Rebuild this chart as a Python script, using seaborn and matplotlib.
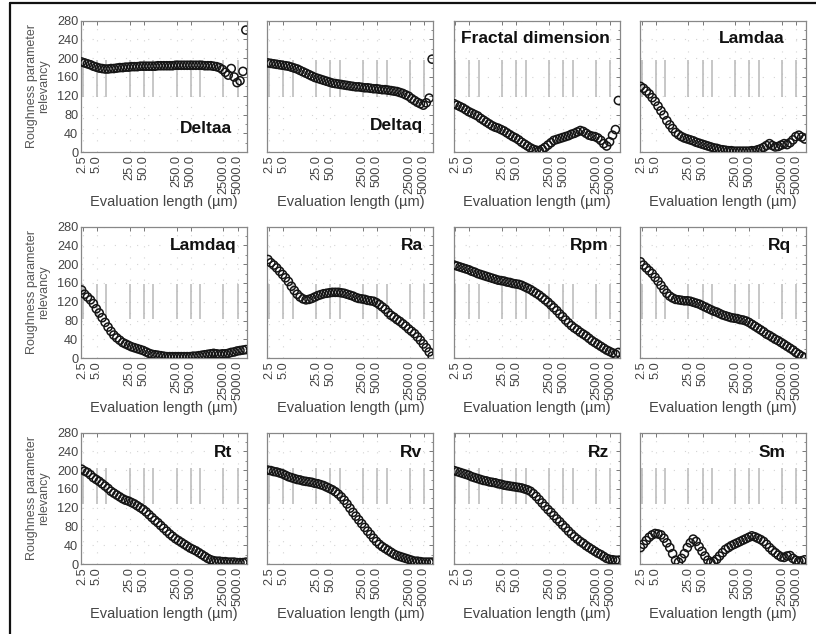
import matplotlib.pyplot as plt
import matplotlib.ticker as mticker
import pandas as pd
import seaborn as sns
from matplotlib.lines import Line2D

# evaluation lengths (um), shared by all panels
eval_length = [2.37, 2.74, 3.16, 3.65, 4.22, 4.87, 5.62, 6.49, 7.50, 8.66,
               10.0, 11.5, 13.3, 15.4, 17.8, 20.5, 23.7, 27.4, 31.6, 36.5,
               42.2, 48.7, 56.2, 64.9, 75.0, 86.6, 100, 115, 133, 154,
               178, 205, 237, 274, 316, 365, 422, 487, 562, 649,
               750, 866, 1000, 1155, 1334, 1540, 1778, 2054, 2371, 2738,
               3162, 3652, 4217, 4870, 5623, 6494, 7499]

deltaa = [192, 190, 188, 186, 183, 181, 179, 178, 177, 177,
          178, 178, 179, 180, 180, 181, 181, 182, 182, 182,
          183, 183, 183, 183, 183, 183, 184, 184, 184, 184,
          184, 184, 185, 185, 185, 185, 185, 185, 185, 185,
          185, 185, 184, 184, 184, 183, 182, 180, 176, 170,
          164, 178, 160, 148, 152, 172, 260]
deltaq = [190, 189, 188, 187, 186, 185, 184, 183, 181, 179,
          177, 174, 171, 168, 165, 162, 159, 157, 155, 153,
          151, 149, 147, 146, 145, 144, 143, 142, 141, 140,
          139, 139, 138, 137, 137, 136, 135, 135, 134, 133,
          133, 132, 131, 130, 129, 127, 125, 122, 119, 114,
          110, 106, 103, 100, 105, 115, 198]
fractal = [103, 100, 97, 94, 90, 86, 83, 80, 77, 72,
           68, 64, 60, 56, 53, 51, 48, 45, 41, 37,
           33, 30, 26, 21, 17, 13, 9, 6, 4, 3,
           6, 10, 15, 20, 25, 27, 29, 31, 33, 35,
           38, 40, 43, 46, 44, 40, 36, 34, 33, 30,
           25, 18, 13, 22, 36, 48, 110]
lamdaa = [140, 136, 130, 124, 116, 108, 98, 88, 79, 67,
          58, 50, 42, 37, 33, 30, 28, 26, 24, 21,
          19, 17, 15, 13, 11, 9, 8, 6, 5, 4,
          3, 3, 2, 2, 2, 2, 2, 2, 3, 3,
          5, 7, 10, 14, 18, 14, 11, 12, 15, 18,
          16, 20, 26, 33, 36, 32, 28]
lamdaq = [145, 136, 130, 124, 116, 105, 96, 86, 76, 66,
          57, 49, 43, 38, 33, 30, 27, 24, 22, 20,
          18, 16, 13, 10, 8, 7, 6, 5, 4, 3,
          3, 3, 3, 3, 3, 3, 3, 3, 4, 4,
          5, 6, 7, 8, 9, 10, 9, 8, 9, 9,
          10, 12, 13, 15, 16, 17, 18]
ra = [210, 203, 198, 192, 185, 178, 171, 163, 153, 144,
      136, 130, 126, 124, 125, 127, 130, 133, 135, 137,
      138, 139, 140, 140, 140, 139, 138, 136, 134, 132,
      129, 127, 126, 125, 123, 122, 121, 118, 114, 109,
      104, 97, 91, 87, 82, 78, 73, 68, 62, 57,
      52, 45, 38, 30, 22, 13, 4]
rpm = [198, 196, 194, 192, 190, 188, 185, 183, 180, 178,
       176, 174, 172, 170, 168, 166, 165, 164, 162, 161,
       159, 158, 157, 155, 152, 149, 146, 142, 138, 134,
       129, 124, 119, 113, 107, 101, 94, 88, 81, 75,
       69, 64, 60, 55, 51, 47, 42, 37, 33, 29,
       25, 21, 17, 14, 11, 8, 12]
rq = [205, 198, 192, 186, 180, 172, 164, 155, 146, 138,
      132, 128, 125, 124, 123, 122, 122, 121, 119, 117,
      115, 112, 109, 106, 103, 100, 98, 95, 92, 90,
      88, 86, 85, 84, 82, 81, 79, 76, 72, 68,
      64, 60, 56, 51, 48, 44, 40, 37, 33, 29,
      25, 21, 17, 12, 8, 4, 1]
rt = [202, 198, 195, 190, 184, 180, 176, 171, 166, 161,
      155, 151, 147, 143, 139, 136, 134, 131, 128, 124,
      120, 116, 111, 105, 99, 93, 88, 82, 76, 70,
      64, 59, 54, 50, 46, 42, 38, 34, 31, 28,
      24, 20, 16, 12, 9, 7, 6, 6, 5, 5,
      4, 4, 4, 3, 3, 3, 4]
rv = [200, 199, 197, 196, 194, 192, 189, 186, 184, 182,
      180, 179, 177, 176, 175, 174, 172, 171, 169, 167,
      164, 161, 158, 154, 149, 143, 136, 128, 119, 110,
      102, 94, 86, 78, 70, 63, 55, 48, 42, 37,
      33, 29, 25, 21, 18, 16, 14, 12, 10, 8,
      6, 6, 5, 4, 4, 4, 4]
rz = [199, 197, 195, 193, 191, 189, 186, 184, 182, 180,
      178, 177, 175, 174, 173, 171, 170, 168, 167, 166,
      165, 164, 163, 162, 160, 158, 155, 150, 144, 137,
      130, 123, 116, 110, 103, 96, 90, 83, 77, 70,
      64, 58, 53, 48, 44, 39, 35, 31, 27, 23,
      20, 16, 12, 10, 9, 8, 8]
sm = [35, 42, 50, 57, 62, 65, 64, 62, 55, 45,
      35, 22, 8, 4, 12, 22, 35, 45, 53, 48,
      37, 27, 17, 8, 3, 5, 10, 17, 24, 31,
      35, 39, 42, 45, 48, 51, 54, 57, 60, 58,
      55, 52, 48, 42, 35, 29, 24, 19, 15, 14,
      17, 18, 12, 8, 6, 7, 9]

panel_names = ["Deltaa", "Deltaq", "Fractal dimension", "Lamdaa",
               "Lamdaq", "Ra", "Rpm", "Rq",
               "Rt", "Rv", "Rz", "Sm"]
panel_values = [deltaa, deltaq, fractal, lamdaa,
                lamdaq, ra, rpm, rq,
                rt, rv, rz, sm]

# gray reference lines (x positions) and their vertical span per row
ref_x = [2.5, 5.0, 8.0, 25.0, 50.0, 80.0, 250.0, 500.0, 800.0, 2500.0, 5000.0]
ref_span = [(117, 196), (83, 158), (128, 205)]

xticks = [2.5, 5.0, 25.0, 50.0, 250.0, 500.0, 2500.0, 5000.0]
xtick_labels = ["2.5", "5.0", "25.0", "50.0", "250.0", "500.0", "2500.0", "5000.0"]
yticks = [0, 40, 80, 120, 160, 200, 240, 280]

# panel label placement (axes fraction, horizontal alignment)
label_pos = {
    "Deltaa": (0.91, 0.18, "right"), "Deltaq": (0.94, 0.20, "right"),
    "Fractal dimension": (0.045, 0.865, "left"), "Lamdaa": (0.87, 0.865, "right"),
    "Lamdaq": (0.935, 0.855, "right"), "Ra": (0.935, 0.855, "right"),
    "Rpm": (0.935, 0.855, "right"), "Rq": (0.91, 0.855, "right"),
    "Rt": (0.91, 0.845, "right"), "Rv": (0.93, 0.845, "right"),
    "Rz": (0.935, 0.845, "right"), "Sm": (0.875, 0.845, "right"),
}

df = pd.concat(
    [pd.DataFrame({"parameter": name, "length": eval_length, "relevancy": vals})
     for name, vals in zip(panel_names, panel_values)],
    ignore_index=True,
)

sns.set_theme(style="white")
plt.rcParams["font.family"] = ["Liberation Sans", "DejaVu Sans"]

fig, axes = plt.subplots(3, 4, figsize=(8.16, 6.34), dpi=100)
fig.subplots_adjust(left=0.0993, right=0.9877, top=0.9674, bottom=0.1104,
                    wspace=0.121, hspace=0.567)

for idx, (ax, name) in enumerate(zip(axes.flat, panel_names)):
    row = idx // 4
    ax.set_xscale("log")
    ax.grid(True, which="major", color="#d4d4d4", linestyle=(0, (1, 9)), linewidth=0.8)
    lo, hi = ref_span[row]
    ax.vlines(ref_x, lo, hi, color="#b8b8b8", linewidth=1.1, zorder=1)

    sns.scatterplot(data=df[df["parameter"] == name], x="length", y="relevancy",
                    ax=ax, marker="o", s=34, facecolor="none",
                    edgecolor="#151515", linewidth=1.1, legend=False, zorder=3)

    ax.set_xlim(2.3, 8000)
    ax.set_ylim(0, 280)
    ax.xaxis.set_major_locator(mticker.FixedLocator(xticks))
    ax.xaxis.set_minor_locator(mticker.NullLocator())
    ax.set_xticklabels(xtick_labels, rotation=90)
    ax.set_yticks(yticks)
    ax.yaxis.set_minor_locator(mticker.MultipleLocator(20))
    ax.tick_params(which="both", direction="in", top=True, right=True,
                   color="#777777", labelcolor="#444444", labelsize=9.2, pad=2)
    ax.tick_params(which="major", length=3, width=0.7)
    ax.tick_params(which="minor", length=1.5, width=0.6)
    if idx % 4 != 0:
        ax.set_yticklabels([])
        ax.set_ylabel("")
    else:
        ax.set_ylabel("Roughness parameter\nrelevancy", fontsize=9,
                      color="#555555", labelpad=5, linespacing=1.0)
    ax.set_xlabel("Evaluation length (µm)", fontsize=10.5, color="#444444", labelpad=1)
    for spine in ax.spines.values():
        spine.set_color("#888888")
        spine.set_linewidth(0.9)

    tx, ty, ha = label_pos[name]
    ax.text(tx, ty, name, transform=ax.transAxes, ha=ha, va="center",
            fontsize=12.5, fontweight="bold", color="#111111", zorder=5)

# partial frame around the figure (left and top edges)
fig.add_artist(Line2D([10 / 816, 10 / 816], [0, 1 - 3 / 634], color="#111111",
                      linewidth=1.6, transform=fig.transFigure))
fig.add_artist(Line2D([10 / 816, 1], [1 - 3 / 634, 1 - 3 / 634], color="#111111",
                      linewidth=1.6, transform=fig.transFigure))

fig.savefig("out.png", dpi=100)
